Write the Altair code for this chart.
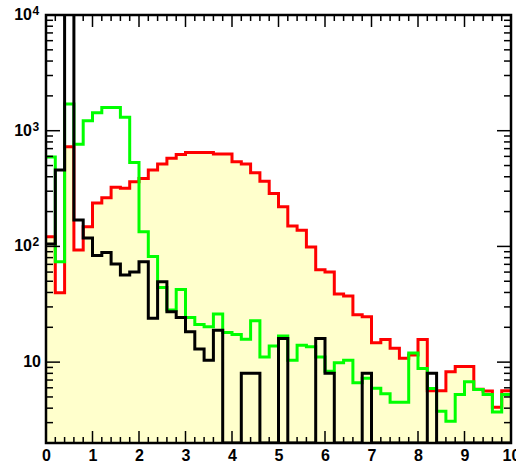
import altair as alt
import pandas as pd

# ---- data, 50 bins of width 0.2 on [0, 10] ----
bin_edges = [round(i * 0.2, 1) for i in range(51)]

red = [121, 39.7, 727, 93, 148, 237, 263, 324, 318, 362,
       387, 457, 515, 577, 622, 648, 648, 648, 629, 629,
       539, 515, 433, 365, 286, 220, 150, 138, 99, 63,
       60, 38.7, 37.2, 25.7, 24.7, 14.7, 15.7, 13.2, 10.8, 11.5,
       15.7, 5.67, 5.67, 8.25, 9.18, 9.18, 5.84, 5.62, 4.08, 5.67]
green = [592, 73.7, 1700, 762, 1220, 1430, 1590, 1590, 1305, 531,
         134, 81.7, 44.2, 28.2, 42.5, 24.3, 21.1, 20.2, 26.0, 18.0,
         17.3, 15.8, 22.8, 11.1, 13.8, 16.8, 10.4, 14.0, 13.6, 11.1,
         8.36, 9.9, 10.4, 6.62, 7.27, 5.96, 5.34, 4.51, 4.51, 12.0,
         8.82, 5.93, 3.77, 3.09, 5.24, 6.76, 5.79, 5.24, 3.70, 5.26]
black = [105, 457, 12000, 169, 118, 83.3, 88.4, 70.4, 56.5, 60.0,
         73.7, 23.9, 49.5, 27.3, 24.3, 18.3, 13.0, 10.4, 18.9, 0,
         0, 8, 8, 0, 0, 16, 0, 0, 0, 16,
         8, 0, 0, 0, 8, 0, 0, 0, 0, 0,
         0, 8, 0, 0, 0, 0, 0, 0, 0, 0]

x_major_ticks = list(range(11))
x_minor_ticks = [round(i * 0.2, 1) for i in range(51) if i % 5 != 0]
y_major_ticks = [10, 100, 1000, 10000]
y_minor_ticks = [m * 10 ** e for e in range(4) for m in range(2, 10) if m * 10 ** e >= 2]
y_label_values = [10, 100, 1000, 10000]
y_label_base = ["10", "10", "10", "10"]
y_label_exp = ["", "2", "3", "4"]

Y_MIN, Y_MAX = 2, 10000
W, H = 465, 428
FONT = "Liberation Sans"


def steps(vals):
    xs = bin_edges[:-1] + [bin_edges[-1]]
    ys = list(vals) + [vals[-1]]
    ys = [max(v, Y_MIN) for v in ys]
    return pd.DataFrame({"x": xs, "y": ys, "y0": [Y_MIN] * len(xs)})


def xenc(field):
    return alt.X(
        f"{field}:Q",
        scale=alt.Scale(domain=[0, 10], nice=False, zero=False),
        axis=alt.Axis(values=x_major_ticks, ticks=False, tickSize=0, domain=False,
                      grid=False, labelFontSize=16, labelFont=FONT,
                      labelFontWeight="bold", labelColor="black", labelPadding=4,
                      labelFlush=False, labelOverlap=False, format="d", title=None),
    )


def yenc(field):
    return alt.Y(f"{field}:Q",
                 scale=alt.Scale(type="log", domain=[Y_MIN, Y_MAX], nice=False),
                 axis=None)


fill = alt.Chart(steps(red)).mark_area(
    interpolate="step-after", color="#ffffcc", opacity=1, clip=True
).encode(x=xenc("x"), y=yenc("y"), y2=alt.Y2("y0:Q"))


def line(vals, color):
    return alt.Chart(steps(vals)).mark_line(
        interpolate="step-after", color=color, strokeWidth=3, clip=True
    ).encode(x=xenc("x"), y=yenc("y"))


red_line = line(red, "#ff0000")
green_line = line(green, "#00ff00")
black_line = line(black, "#000000")

dxmaj = pd.DataFrame({"t": x_major_ticks})
dxmin = pd.DataFrame({"t": x_minor_ticks})
dymaj = pd.DataFrame({"t": y_major_ticks})
dymin = pd.DataFrame({"t": y_minor_ticks})

tick_style = dict(color="black", strokeWidth=1.5)
ticks = []
for df, ln in ((dxmaj, 12), (dxmin, 6)):
    ticks.append(alt.Chart(df).mark_rule(**tick_style).encode(
        x=xenc("t"), y=alt.value(H), y2=alt.value(H - ln)))
    ticks.append(alt.Chart(df).mark_rule(**tick_style).encode(
        x=xenc("t"), y=alt.value(0), y2=alt.value(ln)))
for df, ln in ((dymaj, 14), (dymin, 7)):
    ticks.append(alt.Chart(df).mark_rule(**tick_style).encode(
        y=yenc("t"), x=alt.value(0), x2=alt.value(ln)))
    ticks.append(alt.Chart(df).mark_rule(**tick_style).encode(
        y=yenc("t"), x=alt.value(W), x2=alt.value(W - ln)))

frame = alt.Chart(pd.DataFrame({"a": [0]})).mark_rect(
    filled=False, stroke="black", strokeWidth=2.5
).encode(x=alt.value(0), x2=alt.value(W), y=alt.value(0), y2=alt.value(H))

dlab = pd.DataFrame({"v": y_label_values, "base": y_label_base, "exp": y_label_exp})
lab_plain = alt.Chart(dlab).transform_filter("datum.exp == ''").mark_text(
    align="right", baseline="middle", fontSize=16, fontWeight="bold", font=FONT, color="black"
).encode(x=alt.value(-5), y=yenc("v"), text="base:N")
lab_base = alt.Chart(dlab).transform_filter("datum.exp != ''").mark_text(
    align="right", baseline="middle", fontSize=16, fontWeight="bold", font=FONT, color="black"
).encode(x=alt.value(-14), y=yenc("v"), text="base:N")
lab_exp = alt.Chart(dlab).transform_filter("datum.exp != ''").mark_text(
    align="left", baseline="middle", fontSize=12, fontWeight="bold", font=FONT, color="black", dx=0.5, dy=-4
).encode(x=alt.value(-14), y=yenc("v"), text="exp:N")

chart = alt.layer(
    fill, red_line, green_line, black_line, *ticks, frame, lab_plain, lab_base, lab_exp
).properties(
    width=W, height=H,
    padding={"left": 46, "top": 15, "right": 5, "bottom": 19},
    autosize=alt.AutoSizeParams(type="none"),
    background="white",
).configure_view(strokeWidth=0)

chart.save("out.html", embed_options={"renderer": "svg", "actions": False})
